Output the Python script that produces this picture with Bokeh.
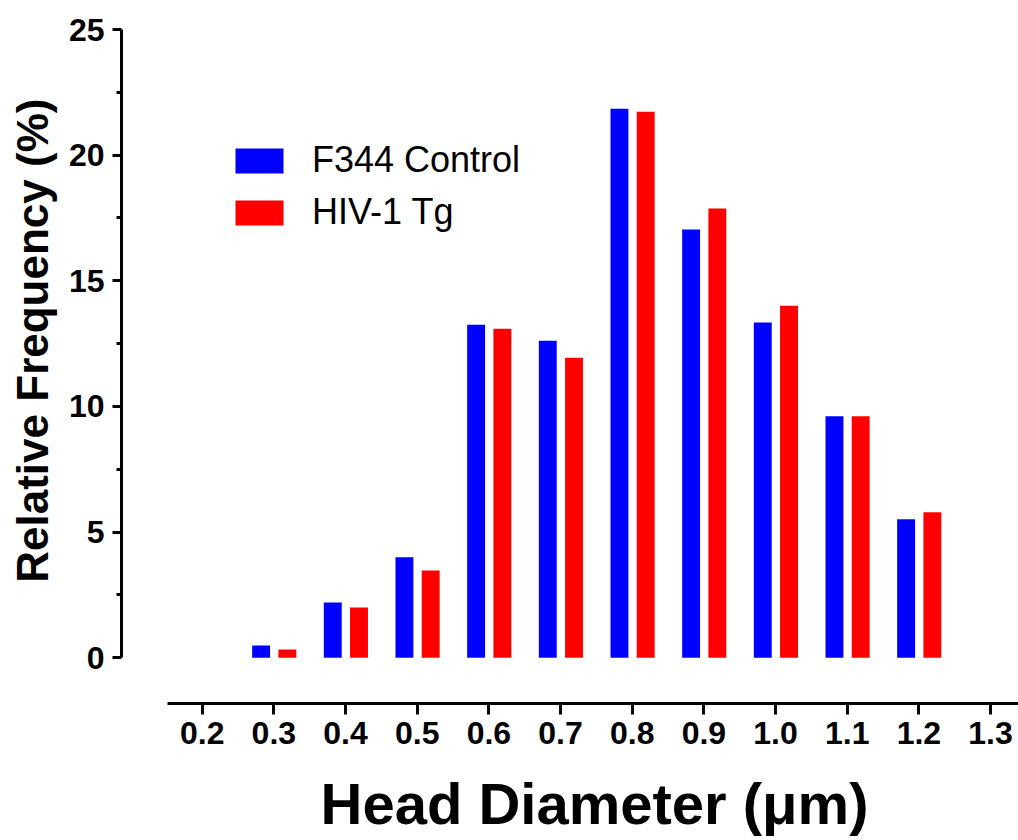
import math
from bokeh.plotting import figure
from bokeh.models import ColumnDataSource, FixedTicker, Legend, LegendItem, Range1d, PrintfTickFormatter, Label
from bokeh.transform import dodge
from bokeh.embed import file_html
from bokeh.resources import INLINE

# ---- data ----
diameters = [0.3, 0.4, 0.5, 0.6, 0.7, 0.8, 0.9, 1.0, 1.1, 1.2]
f344_control = [0.49, 2.2, 4.0, 13.25, 12.62, 21.85, 17.04, 13.34, 9.61, 5.51]
hiv1_tg = [0.33, 2.0, 3.47, 13.09, 11.94, 21.73, 17.88, 14.01, 9.61, 5.79]
x_ticks = [0.2, 0.3, 0.4, 0.5, 0.6, 0.7, 0.8, 0.9, 1.0, 1.1, 1.2, 1.3]
y_ticks = [0, 5, 10, 15, 20, 25]
y_minor_ticks = [2.5, 7.5, 12.5, 17.5, 22.5]
series_names = ["F344 Control", "HIV-1 Tg"]
x_title = "Head Diameter (\u03bcm)"
y_title = "Relative Frequency (%)"

FONT = "Liberation Sans"

p = figure(width=1018, height=840, output_backend="svg", toolbar_location=None,
           x_range=Range1d(0.0874, 1.339), y_range=Range1d(-1.817, 25.0),
           min_border_left=121, min_border_right=0, min_border_top=29, min_border_bottom=137)
p.outline_line_color = None
p.xgrid.visible = False
p.ygrid.visible = False
p.background_fill_color = "white"
p.border_fill_color = "white"

src = ColumnDataSource(dict(x=diameters, a=f344_control, b=hiv1_tg))
r1 = p.vbar(x=dodge("x", -0.0178, range=p.x_range), top="a", bottom=0, width=0.025, source=src,
            fill_color="#0000ff", line_color=None)
r2 = p.vbar(x=dodge("x", 0.0188, range=p.x_range), top="b", bottom=0, width=0.025, source=src,
            fill_color="#ff0000", line_color=None)

# axes
xa = p.xaxis[0]
xa.ticker = FixedTicker(ticks=x_ticks)
xa.formatter = PrintfTickFormatter(format="%.1f")
xa.bounds = (0.151, 1.339)
xa.axis_line_width = 3
xa.axis_line_color = "black"
xa.major_tick_line_width = 3
xa.major_tick_line_color = "black"
xa.major_tick_out = 11
xa.major_tick_in = 0
xa.minor_tick_line_color = None
xa.major_label_text_font = FONT
xa.major_label_text_font_style = "bold"
xa.major_label_text_font_size = "32px"
xa.major_label_text_color = "black"
xa.major_label_standoff = 7

ya = p.yaxis[0]
ya.ticker = FixedTicker(ticks=y_ticks, minor_ticks=y_minor_ticks)
ya.bounds = (0, 25)
ya.axis_line_width = 3
ya.axis_line_color = "black"
ya.major_tick_line_width = 3
ya.major_tick_line_color = "black"
ya.major_tick_out = 9
ya.major_tick_in = 0
ya.minor_tick_line_width = 3
ya.minor_tick_line_color = "black"
ya.minor_tick_out = 5
ya.minor_tick_in = 0
ya.major_label_text_font = FONT
ya.major_label_text_font_style = "bold"
ya.major_label_text_font_size = "32px"
ya.major_label_text_color = "black"
ya.major_label_standoff = 8

# axis titles: labels placed in the side panels
p.add_layout(Label(x=0.7474, y=-5.8, text=x_title, text_align="center", text_baseline="middle",
                   text_font=FONT, text_font_style="bold", text_font_size="58px",
                   text_color="black"), "below")
p.add_layout(Label(x=-0.0368, y=12.62, text=y_title, text_align="center", text_baseline="middle",
                   angle=math.pi / 2, text_font=FONT, text_font_style="bold", text_font_size="44px",
                   text_color="black"), "left")

legend = Legend(items=[LegendItem(label=series_names[0], renderers=[r1]),
                       LegendItem(label=series_names[1], renderers=[r2])],
                location=(108, 470), orientation="vertical",
                glyph_width=60, glyph_height=31, spacing=10, padding=0, margin=0,
                label_text_font=FONT, label_text_font_size="36px", label_standoff=23,
                label_text_color="black",
                border_line_color=None, background_fill_alpha=0)
p.add_layout(legend, "center")

open("out.html", "w").write(file_html(p, INLINE))
